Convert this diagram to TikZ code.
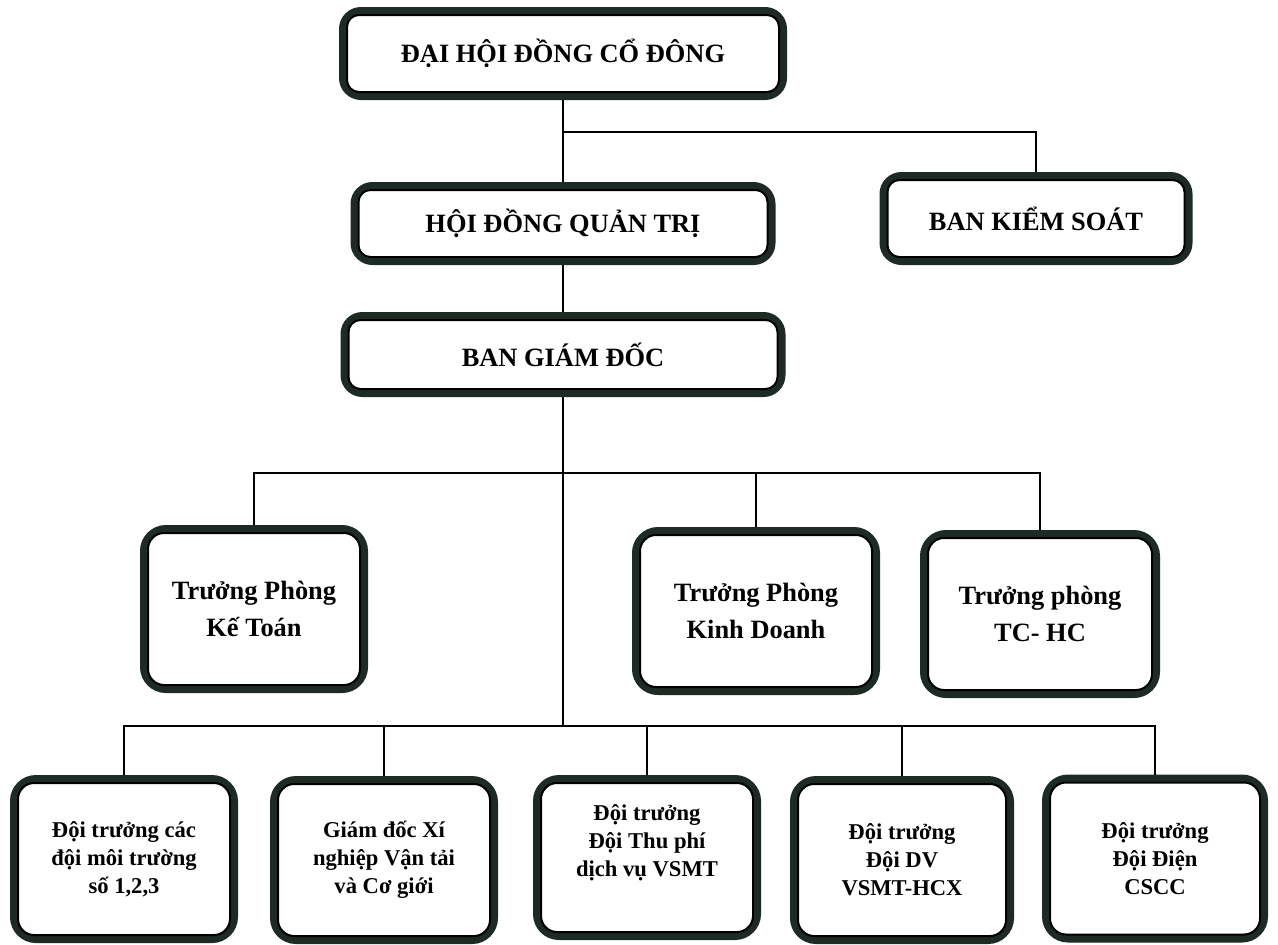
\documentclass[tikz,border=0pt]{standalone}
\usepackage{fontspec}
\setmainfont{Liberation Serif}
\definecolor{boxcol}{HTML}{1E2A24}
\begin{document}
\begin{tikzpicture}[x=0.5pt,y=-0.5pt,
  box/.style={draw=boxcol, line width=4pt, fill=white, rounded corners=9pt,
    align=center, inner sep=0pt, font=\bfseries\fontsize{13.2}{18.5}\selectfont},
  mid/.style={box, minimum width=112pt, minimum height=80pt, rounded corners=11pt},
  low/.style={box, minimum width=110pt, minimum height=80pt, rounded corners=11pt,
    font=\bfseries\fontsize{11.3}{14}\selectfont},
  innerline/.style={draw=black, line width=1pt, rounded corners=6pt},
  link/.style={draw=black, line width=1pt}]
\useasboundingbox (0,0) rectangle (1278,944);
% top level
\node[box, minimum width=220pt, minimum height=42.5pt] (dhd) at (563,53.5) {ĐẠI HỘI ĐỒNG CỔ ĐÔNG};
\node[box, minimum width=208.5pt, minimum height=37.5pt] (hdqt) at (563,223.5) {HỘI ĐỒNG QUẢN TRỊ};
\node[box, minimum width=152.5pt, minimum height=42.5pt] (bks) at (1036,218.5) {BAN KIỂM SOÁT};
\node[box, minimum width=218.5pt, minimum height=38.5pt] (bgd) at (563,354.5) {BAN GIÁM ĐỐC};
% departments
\node[mid, minimum width=110pt] (kt) at (254,609) {Trưởng Phòng\\Kế Toán};
\node[mid, minimum width=120pt] (kd) at (756,611) {Trưởng Phòng\\Kinh Doanh};
\node[mid, minimum width=116pt] (tchc) at (1040,614) {Trưởng phòng\\TC- HC};
% teams
\node[low] (b1) at (124,859) {Đội trưởng các\\đội môi trường\\số 1,2,3};
\node[low] (b2) at (384,860) {Giám đốc Xí\\nghiệp Vận tải\\và Cơ giới};
\node[low, minimum height=78.5pt] (b3) at (647,857.5) {Đội trưởng\\Đội Thu phí\\dịch vụ VSMT\\[3pt]};
\node[low, minimum width=108pt] (b4) at (902,860) {Đội trưởng\\Đội DV\\VSMT-HCX};
\node[low, minimum width=109pt] (b5) at (1155,858.5) {Đội trưởng\\Đội Điện\\CSCC};
% inner lines
\foreach \n in {dhd,hdqt,bks,bgd}
  \draw[innerline] ([xshift=4pt,yshift=4pt]\n.south west) rectangle ([xshift=-4pt,yshift=-4pt]\n.north east);
\foreach \n in {kt,kd,tchc,b1,b2,b3,b4,b5}
  \draw[innerline, rounded corners=8pt] ([xshift=4pt,yshift=4pt]\n.south west) rectangle ([xshift=-4pt,yshift=-4pt]\n.north east);
% connectors
\coordinate (h1) at (563,132);
\coordinate (h2) at (563,473);
\coordinate (h3) at (563,726);
\draw[link] (dhd.south) -- (hdqt.north);
\draw[link] (h1) -| (bks.north);
\draw[link] (hdqt.south) -- (bgd.north);
\draw[link] (bgd.south) -- (h3);
\draw[link] (kt.north) |- (h2) -| (tchc.north);
\draw[link] (kd.north) -- (kd.north |- h2);
\draw[link] (b1.north) |- (h3) -| (b5.north);
\draw[link] (b2.north) -- (b2.north |- h3);
\draw[link] (b3.north) -- (b3.north |- h3);
\draw[link] (b4.north) -- (b4.north |- h3);
\end{tikzpicture}
\end{document}
